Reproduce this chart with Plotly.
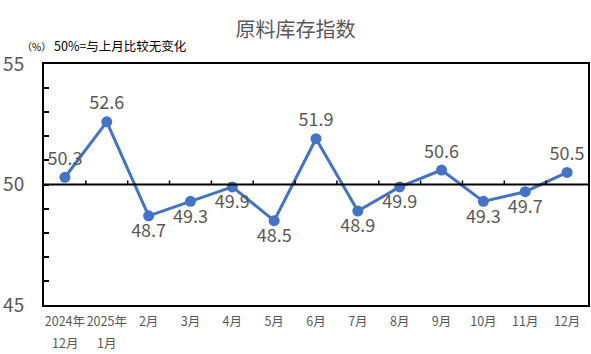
import plotly.graph_objects as go

categories = ["2024年12月", "2025年1月", "2月", "3月", "4月", "5月", "6月",
              "7月", "8月", "9月", "10月", "11月", "12月"]
tick_line1 = ["2024年", "2025年", "2月", "3月", "4月", "5月", "6月",
              "7月", "8月", "9月", "10月", "11月", "12月"]
tick_line2 = ["12月", "1月", "", "", "", "", "", "", "", "", "", "", ""]
values = [50.3, 52.6, 48.7, 49.3, 49.9, 48.5, 51.9, 48.9, 49.9, 50.6, 49.3, 49.7, 50.5]
label_pos = ["top center", "top center", "bottom center", "bottom center", "bottom center",
             "bottom center", "top center", "bottom center", "bottom center", "top center",
             "bottom center", "bottom center", "top center"]
y_ticks = [45, 50, 55]
baseline = 50

FONT = "Noto Sans CJK SC"
GRAY = "#595959"

fig = go.Figure()
fig.add_trace(go.Scatter(
    x=categories, y=values, mode="lines+markers+text",
    line=dict(color="#4472C4", width=3),
    marker=dict(color="#4472C4", size=11),
    text=[f"{v:.1f}" for v in values],
    textposition=label_pos,
    textfont=dict(family=FONT, size=18, color=GRAY),
    cliponaxis=False, showlegend=False,
))

# baseline at 50 with small upward ticks at category boundaries
shapes = [dict(type="line", xref="x domain", yref="y", x0=0, x1=1, y0=baseline, y1=baseline,
               line=dict(color="black", width=2))]
for k in range(1, len(categories)):
    shapes.append(dict(type="line", xref="x", yref="y", ysizemode="pixel", yanchor=baseline,
                       x0=k - 0.5, x1=k - 0.5, y0=0, y1=4, line=dict(color="black", width=1.5)))

annotations = [
    dict(text="<span style='font-size:10px'>（%）</span> 50%=与上月比较无变化",
         xref="paper", yref="paper", x=-0.045, y=1.075, xanchor="left", yanchor="middle",
         showarrow=False, font=dict(family=FONT, size=12.5, color="black")),
]
for i, t in enumerate(tick_line2):
    if t:
        annotations.append(dict(text=t, xref="x", yref="paper", x=categories[i], y=0,
                                yshift=-37, xanchor="center", yanchor="middle", showarrow=False,
                                font=dict(family=FONT, size=12.5, color=GRAY)))

fig.update_layout(
    width=591, height=354,
    margin=dict(l=44, r=3, t=64, b=49),
    paper_bgcolor="white", plot_bgcolor="white",
    font=dict(family=FONT, color=GRAY),
    shapes=shapes,
    annotations=annotations,
    title=dict(text="原料库存指数", x=0.5, xanchor="center", y=0.915, yanchor="middle",
               font=dict(family=FONT, size=20, color=GRAY)),
    xaxis=dict(type="category", range=[-0.5, len(categories) - 0.5],
               tickmode="array", tickvals=categories, ticktext=tick_line1,
               tickangle=0, automargin=False,
               showline=True, linecolor="black", linewidth=2, mirror=True,
               ticks="", showgrid=False, zeroline=False, ticklabelstandoff=4,
               tickfont=dict(family=FONT, size=12.5, color=GRAY)),
    yaxis=dict(range=[45, 55], tickvals=y_ticks, showline=True, linecolor="black",
               linewidth=2, mirror=True, showgrid=False, zeroline=False, automargin=False,
               ticks="inside", ticklen=5, tickcolor="black", tickwidth=1.5,
               minor=dict(dtick=1, ticks="inside", ticklen=5, tickcolor="black", tickwidth=1.5),
               ticklabelstandoff=14,
               tickfont=dict(family=FONT, size=19, color=GRAY)),
)

fig.write_html("out.html")
